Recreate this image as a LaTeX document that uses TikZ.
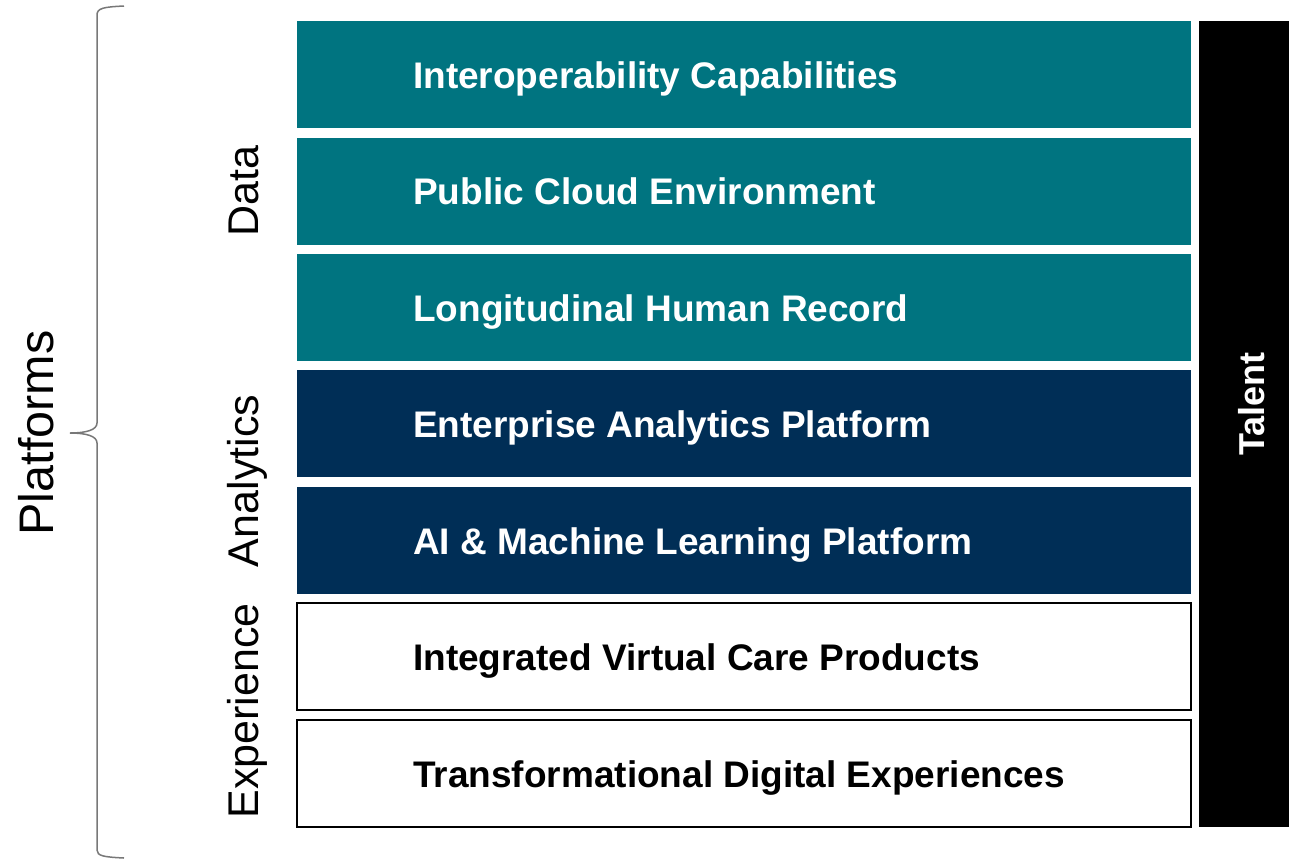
\documentclass[tikz,border=0pt]{standalone}
\usepackage{fontspec}
\setmainfont{Liberation Sans}
\definecolor{tealc}{RGB}{0,116,128}
\definecolor{navyc}{RGB}{0,46,86}
\definecolor{bracec}{RGB}{120,120,120}
\begin{document}
\begin{tikzpicture}[x=1pt,y=-1pt,
  row/.style={rectangle,minimum width=894pt,minimum height=107pt,inner sep=0pt,outer sep=0pt,anchor=north west},
  tealrow/.style={row,fill=tealc},
  navyrow/.style={row,fill=navyc},
  whiterow/.style={row,fill=white,draw=black,line width=2pt},
  rowtext/.style={anchor=west,inner sep=0pt,font=\fontsize{37}{40}\selectfont\bfseries,text height=26.5pt,text depth=0pt},
  wtext/.style={rowtext,text=white},
  btext/.style={rowtext,text=black},
  cat/.style={rotate=90,inner sep=0pt,font=\fontsize{43}{46}\selectfont,text height=31pt,text depth=0pt}
]
\useasboundingbox (0,0) rectangle (1289,859);
% rows
\node[tealrow] (r1) at (297,21) {};
\node[tealrow] (r2) at (297,138) {};
\node[tealrow] (r3) at (297,254) {};
\node[navyrow] (r4) at (297,370) {};
\node[navyrow] (r5) at (297,487) {};
\node[whiterow] (r6) at (297,603) {};
\node[whiterow] (r7) at (297,720) {};
% row texts
\node[wtext] (t1) at (413,75) {Interoperability Capabilities};
\node[wtext] (t2) at (413,191) {Public Cloud Environment};
\node[wtext] (t3) at (413,308) {Longitudinal Human Record};
\node[wtext] (t4) at (413,424) {Enterprise Analytics Platform};
\node[wtext] (t5) at (413,541) {AI \& Machine Learning Platform};
\node[btext] (t6) at (413,657) {Integrated Virtual Care Products};
\node[btext] (t7) at (413,774) {Transformational Digital Experiences};
% talent
\node[rectangle,fill=black,inner sep=0pt,outer sep=0pt,minimum width=90pt,minimum height=806pt,anchor=north west] (talent) at (1199,21) {};
\node[rotate=90,inner sep=0pt,text=white,font=\fontsize{36}{40}\selectfont\bfseries,text height=26pt,text depth=0pt] (talentlbl) at (1251,404) {Talent};
% categories
\node[cat] (data) at (243,191) {Data};
\node[cat] (analytics) at (243,481) {Analytics};
\node[cat] (experience) at (243,711) {Experience};
\node[rotate=90,inner sep=0pt,font=\fontsize{48.5}{52}\selectfont,text height=35pt,text depth=0pt] (platforms) at (36,433) {Platforms};
% brace
\coordinate (btop) at (124,6);
\coordinate (btip) at (70,433);
\coordinate (bbot) at (124,858);
\draw[bracec,line width=1.5pt] (btop) .. controls (104,7) and (97,8) .. (97,15) -- (97,423)
  .. controls (97,430) and (86,433) .. (btip)
  .. controls (86,433) and (97,436) .. (97,443) -- (97,850)
  .. controls (97,856) and (104,857) .. (bbot);
\end{tikzpicture}
\end{document}
